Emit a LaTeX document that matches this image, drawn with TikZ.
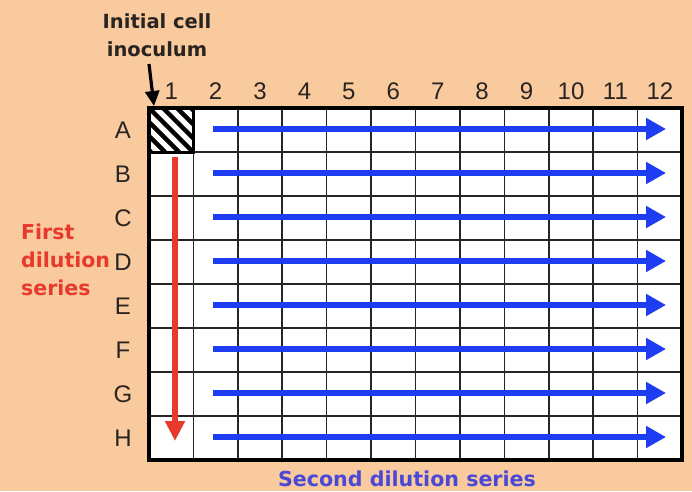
\documentclass[tikz,border=0pt]{standalone}
\usepackage{fontspec}
\setmainfont{Liberation Sans}
\newfontfamily\lblfont{DejaVu Sans}
\usetikzlibrary{arrows.meta}
\definecolor{bg}{HTML}{F8CA9E}
\definecolor{blu}{HTML}{1E3CF2}
\definecolor{rd}{HTML}{E83A2C}
\definecolor{lbl}{HTML}{4A48D6}
\definecolor{txt}{HTML}{2A2420}
\begin{document}
\begin{tikzpicture}[x=1pt,y=-1pt,
  collbl/.style={font=\fontsize{24}{24}\selectfont, text=txt, inner sep=0pt},
  rowlbl/.style={font=\fontsize{24}{24}\selectfont, text=txt, inner sep=0pt},
  boldlbl/.style={font=\lblfont\bfseries\fontsize{19.5}{28}\selectfont, inner sep=0pt, align=left},
  bluearrow/.style={draw=blu, line width=6.5pt, -{Triangle[width=21pt,length=20pt]}},
  redarrow/.style={draw=rd, line width=6pt, -{Triangle[width=19pt,length=20pt]}}]
\fill[bg] (0,0) rectangle (692,491);
\useasboundingbox (0,0) rectangle (692,491);
% plate
\fill[white] (149,108) rectangle (682,460);
% hatched A1
\begin{scope}
  \clip (149,108) rectangle (193.4,152);
  \foreach \s in {-42,-28,...,42} {
    \draw[line width=4.3pt] (149+\s,108) -- (149+\s+44,152);
  }
\end{scope}
% grid
\foreach \i in {1,...,11} {
  \draw[line width=1.6pt, black!85] (149+\i*44.42,108) -- (149+\i*44.42,460);
}
\foreach \j in {1,...,7} {
  \draw[line width=1.6pt, black!85] (149,108+\j*44) -- (682,108+\j*44);
}
\draw[line width=3.5pt] (149,108) rectangle (682,460);
\draw[line width=3pt] (149,108) rectangle (193.4,152);
% column labels
\foreach \i in {1,...,12} {
  \node[collbl] (c\i) at (149+\i*44.42-22.2,91) {\i};
}
% row labels
\foreach \l [count=\j from 0] in {A,B,C,D,E,F,G,H} {
  \node[rowlbl] (r\l) at (123,130+\j*44) {\l};
}
% blue arrows
\foreach \l [count=\j from 0] in {A,B,C,D,E,F,G,H} {
  \coordinate (bs\l) at (213,129+\j*44);
  \coordinate (be\l) at (666,129+\j*44);
  \draw[bluearrow] (bs\l) -- (be\l);
}
% red arrow
\coordinate (rs) at (175,157);
\coordinate (re) at (175,441);
\draw[redarrow] (rs) -- (re);
% texts
\node[boldlbl, text=txt, align=center] (init) at (157,35) {Initial cell\\inoculum};
\coordinate (corner) at (154,106);
\draw[line width=3.2pt, -{Triangle[width=14pt,length=15pt]}] (149,64) -- (corner);
\node[boldlbl, text=rd, anchor=west, font=\lblfont\bfseries\fontsize{20.5}{28}\selectfont] (first) at (21,260) {First\\dilution\\series};
\node[boldlbl, text=lbl, font=\lblfont\bfseries\fontsize{20.6}{28}\selectfont] (second) at (407,479) {Second dilution series};
\end{tikzpicture}
\end{document}
